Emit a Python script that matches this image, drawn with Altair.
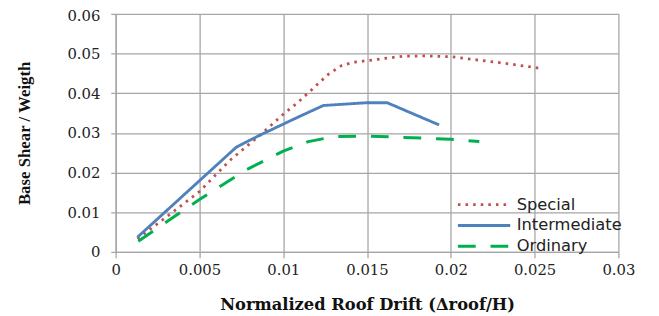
import altair as alt
import pandas as pd

series_names = ["Special", "Intermediate", "Ordinary"]

special_x = [0.0013, 0.003, 0.005, 0.0068, 0.0088, 0.010, 0.0108, 0.0116, 0.0127, 0.0135,
             0.0142, 0.0150, 0.0171, 0.0185, 0.0200, 0.0231, 0.0253]
special_y = [0.0033, 0.0087, 0.0152, 0.0230, 0.0301, 0.0347, 0.0374, 0.0405, 0.0448, 0.0470,
             0.0478, 0.0482, 0.0493, 0.0494, 0.0492, 0.0476, 0.0463]

inter_x = [0.0013, 0.0072, 0.0085, 0.0096, 0.0110, 0.0124, 0.0150, 0.0162, 0.0193]
inter_y = [0.0037, 0.0264, 0.0292, 0.0314, 0.0342, 0.0369, 0.0376, 0.0376, 0.0320]

ord_x = [0.00135, 0.005, 0.0078, 0.010, 0.0115, 0.0131, 0.015, 0.020, 0.0217]
ord_y = [0.0027, 0.0132, 0.0207, 0.0254, 0.0278, 0.0291, 0.0292, 0.0284, 0.0278]

x_ticks = [0, 0.005, 0.01, 0.015, 0.02, 0.025, 0.03]
y_ticks = [0, 0.01, 0.02, 0.03, 0.04, 0.05, 0.06]

rows = []
for name, xs, ys in [("Special", special_x, special_y),
                     ("Intermediate", inter_x, inter_y),
                     ("Ordinary", ord_x, ord_y)]:
    for i, (a, b) in enumerate(zip(xs, ys)):
        rows.append({"series": name, "drift": a, "shear": b, "order": i})
df = pd.DataFrame(rows)

grid_color = "#a6a6a6"

legend = alt.Legend(
    title=None, orient="none", legendX=345, legendY=184,
    symbolType="stroke", symbolSize=2809, labelOffset=5, clipHeight=18.5,
    labelFont="DejaVu Sans", labelFontSize=16.5, labelColor="#222222",
    rowPadding=2, padding=0,
)

chart = alt.Chart(df).mark_line(interpolate="linear").encode(
    x=alt.X("drift:Q", scale=alt.Scale(domain=[0, 0.03], nice=False),
            axis=alt.Axis(values=x_ticks, format="~g", title="Normalized Roof Drift (Δroof/H)",
                          titleFont="DejaVu Serif", titleFontSize=16.5, titleFontWeight="bold",
                          titleColor="#111111", titlePadding=19, labelFlush=False,
                          labelFont="DejaVu Serif", labelFontSize=15, labelColor="#222222",
                          labelPadding=5, tickSize=6, grid=True)),
    y=alt.Y("shear:Q", scale=alt.Scale(domain=[0, 0.06], nice=False),
            axis=alt.Axis(values=y_ticks, format="~g", title="Base Shear / Weigth",
                          titleFont="Liberation Serif", titleFontSize=17, titleFontWeight="bold",
                          titleColor="#111111", titlePadding=34, labelFlush=False,
                          labelFont="DejaVu Serif", labelFontSize=15, labelColor="#222222",
                          labelOffset={"condition": {"test": "datum.value > 0.055", "value": 2},
                                       "value": 0},
                          labelPadding=11, tickSize=5, grid=True)),
    color=alt.Color("series:N", scale=alt.Scale(domain=series_names,
                                                range=["#c0504d", "#4f81bd", "#00b050"]),
                    legend=legend),
    strokeDash=alt.StrokeDash("series:N", scale=alt.Scale(domain=series_names,
                                                         range=[[2.6, 5.1], [1, 0], [18, 15]]),
                              legend=legend),
    strokeWidth=alt.StrokeWidth("series:N", scale=alt.Scale(domain=series_names,
                                                           range=[2.8, 3, 4.2]),
                                legend=legend),
    order="order:Q",
).properties(
    width=509, height=241,
    autosize=alt.AutoSizeParams(type="none"),
    padding={"left": 109, "top": 4, "right": 33, "bottom": 63},
).configure_axis(
    gridColor=grid_color, gridWidth=1.3, domainColor=grid_color, domainWidth=1.3,
    tickColor=grid_color, tickWidth=1.3,
).configure_view(stroke=None)

chart.save("out.html", embed_options={"renderer": "svg", "actions": False})
